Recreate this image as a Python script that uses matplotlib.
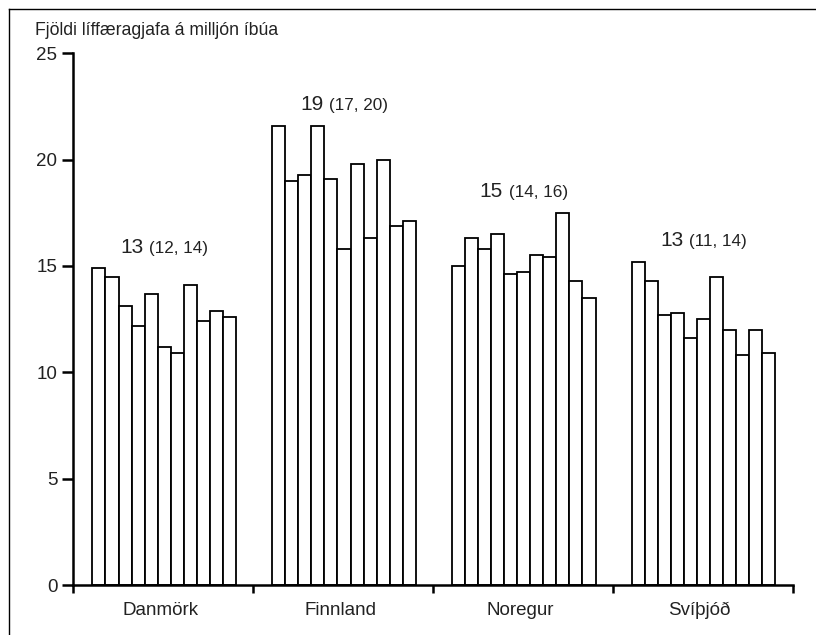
import matplotlib
matplotlib.use("Agg")
import matplotlib.pyplot as plt
from matplotlib.lines import Line2D
from matplotlib.offsetbox import TextArea, HPacker, AnnotationBbox

plt.rcParams['font.family'] = ['Liberation Sans', 'DejaVu Sans']

countries = ['Danmörk', 'Finnland', 'Noregur', 'Svíþjóð']
danmork = [14.9, 14.5, 13.1, 12.2, 13.7, 11.2, 10.9, 14.1, 12.4, 12.9, 12.6]
finnland = [21.6, 19.0, 19.3, 21.6, 19.1, 15.8, 19.8, 16.3, 20.0, 16.9, 17.1]
noregur = [15.0, 16.3, 15.8, 16.5, 14.6, 14.7, 15.5, 15.4, 17.5, 14.3, 13.5]
svithjod = [15.2, 14.3, 12.7, 12.8, 11.6, 12.5, 14.5, 12.0, 10.8, 12.0, 10.9]
means = ['13', '19', '15', '13']
intervals = ['(12, 14)', '(17, 20)', '(14, 16)', '(11, 14)']
ylabel = 'Fjöldi líffæragjafa á milljón íbúa'

series = [danmork, finnland, noregur, svithjod]

W, H = 816, 635
fig = plt.figure(figsize=(W / 100, H / 100), dpi=100)
ax = fig.add_axes([73.3 / W, 1 - 585 / H, (792.7 - 73.3) / W, (585 - 53.3) / H])

group_step = 13.8
margin = 1.47
text_color = '#222222'

for g, vals in enumerate(series):
    start = g * group_step
    xs = [start + i for i in range(len(vals))]
    ax.bar(xs, vals, width=1.0, align='edge', color='white',
           edgecolor='black', linewidth=1.3, zorder=2)

    # mean with confidence interval above each group
    cx = start + len(vals) / 2
    box = HPacker(children=[
        TextArea(means[g], textprops=dict(fontsize=15, color=text_color)),
        TextArea(intervals[g], textprops=dict(fontsize=12.3, color=text_color)),
    ], align='baseline', pad=0, sep=4)
    ab = AnnotationBbox(box, (cx, max(vals) + 0.75), xybox=(0, -3.2),
                        boxcoords='offset points', box_alignment=(0.5, 0.0),
                        frameon=False)
    ax.add_artist(ab)

    # category label below group
    ax.annotate(countries[g], xy=(cx - 0.3, 0), xycoords=('data', 'axes fraction'),
                xytext=(0, -21.6), textcoords='offset points',
                ha='center', va='baseline', fontsize=13.5, color=text_color)

ax.set_xlim(-margin, -margin + 4 * group_step)
ax.set_ylim(0, 25)

ax.set_xticks([-margin + k * group_step for k in range(5)])
ax.set_xticklabels([])
ax.set_yticks(range(0, 26, 5))
ax.tick_params(axis='y', length=8, width=1.8, pad=3.4, labelsize=13.5,
               labelcolor=text_color)
ax.tick_params(axis='x', length=5.5, width=1.8)

for side in ['top', 'right']:
    ax.spines[side].set_visible(False)
for side in ['left', 'bottom']:
    ax.spines[side].set_linewidth(1.8)
    ax.spines[side].set_zorder(3)

fig.text(35 / W, 1 - 35 / H, ylabel, ha='left', va='baseline',
         fontsize=12.7, color=text_color)

# frame around the picture (left and top edges)
fig.add_artist(Line2D([9 / W, 9 / W], [0, 1 - 9 / H], transform=fig.transFigure,
                      color='black', linewidth=1.0))
fig.add_artist(Line2D([9 / W, 1], [1 - 9 / H, 1 - 9 / H], transform=fig.transFigure,
                      color='black', linewidth=1.0))

fig.savefig('out.png', dpi=100)
